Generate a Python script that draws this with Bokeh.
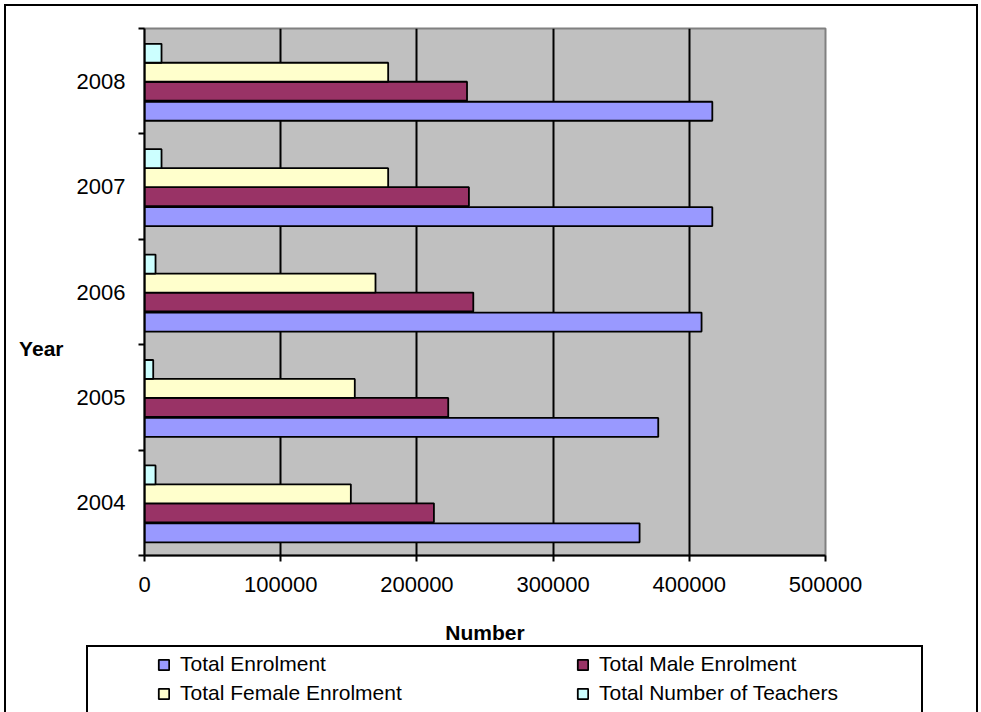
from bokeh.plotting import figure
from bokeh.layouts import column
from bokeh.models import (ColumnDataSource, FixedTicker, NumeralTickFormatter, Legend,
                          LegendItem, Range1d, LinearAxis, InlineStyleSheet)
from bokeh.transform import dodge
from bokeh.embed import file_html
from bokeh.resources import INLINE

# ---- data ----
years = ["2004", "2005", "2006", "2007", "2008"]
total_enrolment = [363500, 377200, 409000, 416900, 416900]
male_enrolment = [212500, 223000, 241400, 238200, 236800]
female_enrolment = [151500, 154400, 169600, 178900, 178900]
teachers = [8100, 6400, 8100, 12500, 12500]
x_ticks = [0, 100000, 200000, 300000, 400000, 500000]

series_names = ["Total Enrolment", "Total Male Enrolment",
                "Total Female Enrolment", "Total Number of Teachers"]
series_cols = ["total", "male", "female", "teachers"]
series_colors = ["#9999FF", "#993366", "#FFFFCC", "#CCFFFF"]
series_offsets = [-0.285, -0.095, 0.085, 0.265]

FONT = "Liberation Sans"

source = ColumnDataSource(dict(
    center=[i + 0.5 for i in range(len(years))],
    total=total_enrolment, male=male_enrolment,
    female=female_enrolment, teachers=teachers,
))

CHART_H = 650
p = figure(width=981, height=CHART_H, output_backend="svg", toolbar_location=None,
           x_range=Range1d(0, 500000), y_range=Range1d(0, len(years)),
           min_border_left=144, min_border_right=156,
           min_border_top=28, min_border_bottom=CHART_H - 555)
p.frame_align = False

p.background_fill_color = "#C0C0C0"
p.border_fill_color = "white"
p.outline_line_color = "#808080"
p.outline_line_width = 2

renderers = []
for col, color, off in zip(series_cols, series_colors, series_offsets):
    r = p.hbar(y=dodge("center", off, range=p.y_range), right=col, left=0,
               height=0.18, source=source, fill_color=color,
               line_color="black", line_width=1.8)
    renderers.append(r)

# x axis
xa = p.xaxis[0]
xa.ticker = FixedTicker(ticks=x_ticks)
xa.formatter = NumeralTickFormatter(format="0")
xa.axis_line_color = "black"
xa.axis_line_width = 2
xa.major_tick_out = 6
xa.major_tick_in = 0
xa.major_tick_line_width = 2
xa.minor_tick_out = 0
xa.minor_tick_in = 0
xa.major_label_text_font = FONT
xa.major_label_text_font_size = "22px"
xa.major_label_text_color = "black"
xa.major_label_standoff = 15
xa.axis_label = "Number"
xa.axis_label_text_font = FONT
xa.axis_label_text_font_size = "21px"
xa.axis_label_text_font_style = "bold"
xa.axis_label_text_color = "black"
xa.axis_label_standoff = 26

# y axis: labels at category centres, tick marks between categories
ya = p.yaxis[0]
ya.ticker = FixedTicker(ticks=[i + 0.5 for i in range(len(years))],
                        minor_ticks=list(range(len(years) + 1)))
ya.major_label_overrides = {i + 0.5: y for i, y in enumerate(years)}
ya.axis_line_color = "black"
ya.axis_line_width = 2
ya.major_tick_out = 0
ya.major_tick_in = 0
ya.minor_tick_out = 6
ya.minor_tick_in = 0
ya.minor_tick_line_color = "black"
ya.minor_tick_line_width = 2
ya.major_label_text_font = FONT
ya.major_label_text_font_size = "22px"
ya.major_label_text_color = "black"
ya.major_label_standoff = 13

# "Year" title, as a label-only axis outside the year labels
year_pos = 1.96
year_axis = LinearAxis(ticker=FixedTicker(ticks=[year_pos]),
                       major_label_overrides={year_pos: "Year"},
                       axis_line_color=None, major_tick_line_color=None,
                       minor_tick_line_color=None, major_tick_out=0, major_tick_in=0,
                       major_label_standoff=10,
                       major_label_text_font=FONT, major_label_text_font_size="21px",
                       major_label_text_font_style="bold", major_label_text_color="black")
p.add_layout(year_axis, "left")

p.xgrid.ticker = FixedTicker(ticks=x_ticks)
p.xgrid.grid_line_color = "black"
p.xgrid.grid_line_width = 2
p.ygrid.grid_line_color = None

# ---- legend strip underneath (legend keys mirror the bar styles) ----
LEG_H = 712 - CHART_H
leg = figure(width=981, height=LEG_H, output_backend="svg", toolbar_location=None,
             x_axis_type=None, y_axis_type=None, min_border=0,
             x_range=Range1d(0, 1), y_range=Range1d(0, 1))
leg.frame_align = False
leg.outline_line_color = None
leg.background_fill_color = "white"
leg.grid.grid_line_color = None
# legend key proxies: one zero-length bar each, outside the strip's visible range
proxy = ColumnDataSource(dict(y=[-1.0], right=[0.0]))
leg_renderers = []
for color in series_colors:
    leg_renderers.append(leg.hbar(y="y", right="right", left=0, height=0.1, source=proxy,
                                  fill_color=color, line_color="black", line_width=1.8))

order = [0, 2, 1, 3]
legend = Legend(items=[LegendItem(label=series_names[i], renderers=[leg_renderers[i]]) for i in order],
                ncols=2, orientation="vertical", location=(157, 7),
                glyph_width=13, glyph_height=13, label_standoff=10, label_width=391,
                label_height=24, spacing=5, padding=0, margin=0,
                label_text_font=FONT, label_text_font_size="21px", label_text_color="black",
                background_fill_alpha=0, border_line_alpha=0)
leg.add_layout(legend)

layout = column(p, leg, spacing=0)

# outer chart border and legend frame (both run off the bottom edge, as in the reference)
layout.stylesheets = [InlineStyleSheet(css="""
:host { position: relative; }
:host::before { content: ""; position: absolute; left: 4px; top: 4px; width: 974px; height: 708px;
  box-sizing: border-box; border: 2px solid black; border-bottom: none; pointer-events: none; z-index: 10; }
:host::after { content: ""; position: absolute; left: 86px; top: 645px; width: 837px; height: 67px;
  box-sizing: border-box; border: 2px solid black; border-bottom: none; pointer-events: none; z-index: 10; }
""")]

open("out.html", "w").write(file_html(layout, INLINE))
